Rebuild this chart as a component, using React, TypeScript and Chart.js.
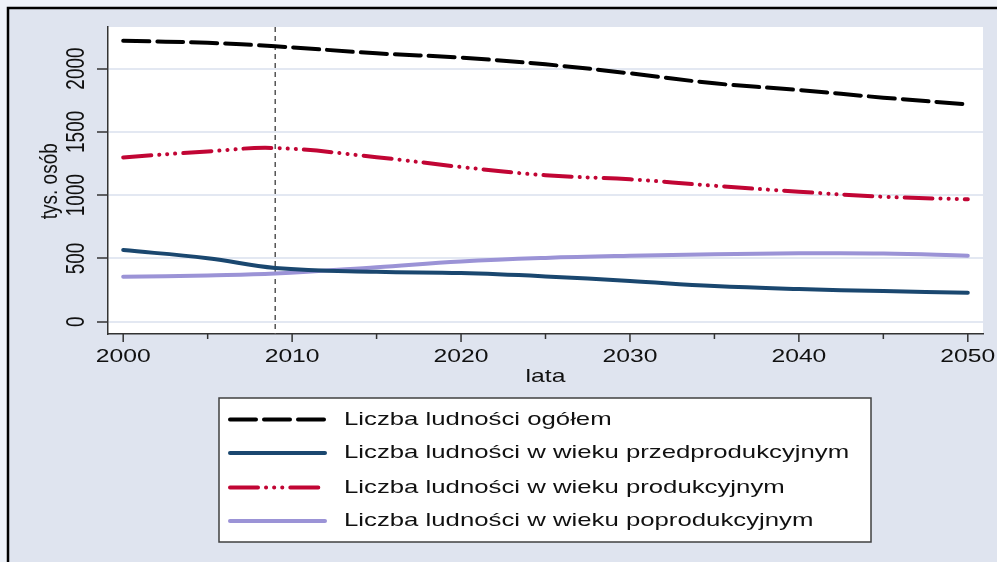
import React, { useEffect, useRef } from 'react';
import { Chart, registerables } from 'chart.js';

Chart.register(...registerables);

// ---- data ----
const years = [2000, 2005, 2009, 2015, 2020, 2025, 2030, 2035, 2040, 2045, 2050];
const totalPop = [2219, 2203, 2176, 2120, 2086, 2033, 1962, 1883, 1830, 1770, 1717];
const preWorking = [566, 502, 425, 394, 384, 358, 322, 282, 258, 242, 229];
const working = [1298, 1345, 1372, 1300, 1222, 1157, 1125, 1074, 1027, 987, 967];
const postWorking = [355, 366, 380, 430, 476, 504, 521, 533, 540, 539, 521];

const seriesLabels = [
  'Liczba ludności ogółem',
  'Liczba ludności w wieku przedprodukcyjnym',
  'Liczba ludności w wieku produkcyjnym',
  'Liczba ludności w wieku poprodukcyjnym',
];
const seriesColors = ['#000000', '#1a476f', '#c10534', '#9b93d6'];
const yTickValues = [0, 500, 1000, 1500, 2000];
const xLabelStep = 10;
const xTickStep = 5;
const markerYear = 2009;
const yTitle = 'tys. osób';
const xTitle = 'lata';

const FONT = '"Liberation Sans", Arial, Helvetica, sans-serif';
const SX = 1.3;
const W = 997;
const H = 562;

function drawText(
  ctx: CanvasRenderingContext2D,
  text: string,
  x: number,
  y: number,
  size: number,
  align: CanvasTextAlign,
  rotate = false,
  sx = SX,
  color = '#111111'
) {
  ctx.save();
  ctx.translate(x, y);
  if (rotate) {
    ctx.rotate(-Math.PI / 2);
    ctx.scale(1, sx);
  } else {
    ctx.scale(sx, 1);
  }
  ctx.font = `${size}px ${FONT}`;
  ctx.fillStyle = color;
  ctx.textAlign = align;
  ctx.textBaseline = 'middle';
  ctx.fillText(text, 0, 0);
  ctx.restore();
}

const dashStyles: number[][] = [[26, 8], [], [28, 8, 0.1, 8, 0.1, 8, 0.1, 8], []];

const framePlugin = {
  id: 'frame',
  beforeDraw(chart: any) {
    const ctx = chart.ctx as CanvasRenderingContext2D;
    const ca = chart.chartArea;
    ctx.save();
    ctx.fillStyle = '#eef2f9';
    ctx.fillRect(0, 0, W, H);
    ctx.fillStyle = '#dfe4ef';
    ctx.fillRect(8, 8, W, H);
    ctx.strokeStyle = '#000000';
    ctx.lineWidth = 2.5;
    ctx.strokeRect(8, 8, W + 50, H + 50);
    ctx.fillStyle = '#ffffff';
    ctx.fillRect(ca.left, ca.top, ca.right - ca.left, ca.bottom - ca.top);
    ctx.restore();
  },
  beforeDatasetsDraw(chart: any) {
    const ctx = chart.ctx as CanvasRenderingContext2D;
    const ca = chart.chartArea;
    const x = chart.scales.x.getPixelForValue(markerYear);
    ctx.save();
    ctx.strokeStyle = '#555555';
    ctx.lineWidth = 1.5;
    ctx.setLineDash([5, 4]);
    ctx.beginPath();
    ctx.moveTo(x, ca.top);
    ctx.lineTo(x, ca.bottom);
    ctx.stroke();
    ctx.restore();
  },
  afterDraw(chart: any) {
    const ctx = chart.ctx as CanvasRenderingContext2D;
    const ca = chart.chartArea;
    const xs = chart.scales.x;
    const ys = chart.scales.y;
    ctx.save();
    // x tick marks and labels
    ctx.strokeStyle = '#333333';
    ctx.lineWidth = 1.5;
    xs.ticks.forEach((t: any) => {
      const px = xs.getPixelForValue(t.value);
      const major = t.value % xLabelStep === 0;
      ctx.beginPath();
      ctx.moveTo(px, ca.bottom);
      ctx.lineTo(px, ca.bottom + (major ? 8 : 5));
      ctx.stroke();
      if (major) drawText(ctx, String(t.value), px, 357, 19, 'center');
    });
    // y tick labels (vertical)
    ys.ticks.forEach((t: any) => {
      const py = ys.getPixelForValue(t.value);
      drawText(ctx, String(t.value), 77, py, 19, 'center', true, 1.4);
    });
    // axis titles
    drawText(ctx, yTitle, 50, ys.getPixelForValue(1110), 19, 'center', true);
    drawText(ctx, xTitle, (ca.left + ca.right) / 2, 377, 19, 'center');

    // legend
    const bx = 219, by = 398, bw = 652, bh = 144;
    ctx.fillStyle = '#ffffff';
    ctx.fillRect(bx, by, bw, bh);
    ctx.strokeStyle = '#404040';
    ctx.lineWidth = 1.5;
    ctx.strokeRect(bx, by, bw, bh);
    const rows = [419.5, 453, 487.5, 521];
    chart.data.datasets.forEach((ds: any, i: number) => {
      const ry = rows[i];
      ctx.save();
      ctx.strokeStyle = ds.borderColor;
      ctx.lineWidth = ds.borderWidth;
      ctx.lineCap = 'round';
      ctx.setLineDash(ds.borderDash || []);
      ctx.beginPath();
      ctx.moveTo(230, ry);
      ctx.lineTo(325, ry);
      ctx.stroke();
      ctx.restore();
      drawText(ctx, ds.label, 344, ry, 19, 'left', false, 1.355);
    });
    ctx.restore();
  },
};

function makeSeries(values: number[]) {
  return years.map((yr, i) => ({ x: yr, y: values[i] }));
}

export default function App() {
  const ref = useRef<HTMLCanvasElement>(null);
  useEffect(() => {
    if (!ref.current) return;
    const all = [totalPop, preWorking, working, postWorking];
    const chart = new Chart(ref.current, {
      type: 'line',
      data: {
        datasets: all.map((vals, i) => ({
          label: seriesLabels[i],
          data: makeSeries(vals),
          borderColor: seriesColors[i],
          backgroundColor: seriesColors[i],
          borderWidth: 4,
          borderDash: dashStyles[i],
          borderCapStyle: 'round',
          borderJoinStyle: 'round',
          pointRadius: 0,
          tension: 0.4,
          fill: false,
        })) as any,
      },
      options: {
        responsive: false,
        animation: false,
        devicePixelRatio: 1,
        layout: { padding: { top: 27, right: 14, left: 0, bottom: 0 } },
        plugins: { legend: { display: false }, tooltip: { enabled: false } },
        scales: {
          x: {
            type: 'linear',
            min: 1999.1,
            max: 2050.9,
            ticks: { display: false, stepSize: xTickStep, includeBounds: false } as any,
            grid: { display: false },
            border: { display: true, color: '#333333', width: 1.5 },
            afterFit: (s: any) => { s.height = H - 334; },
          },
          y: {
            type: 'linear',
            min: -97,
            max: 2328,
            afterBuildTicks: (s: any) => { s.ticks = yTickValues.map((v) => ({ value: v })); },
            ticks: { display: false, stepSize: 500, includeBounds: false } as any,
            grid: {
              color: '#e3e8f2',
              lineWidth: 2,
              drawTicks: true,
              tickLength: 11,
              tickColor: '#333333',
              tickWidth: 1.5,
            },
            border: { display: true, color: '#333333', width: 1.5 },
            afterFit: (s: any) => { s.width = 108; },
          },
        },
      },
      plugins: [framePlugin],
    });
    return () => chart.destroy();
  }, []);

  return (
    <div style={{ position: 'absolute', left: 0, top: 0, width: W, height: H }}>
      <canvas ref={ref} width={W} height={H} style={{ display: 'block' }} />
    </div>
  );
}
